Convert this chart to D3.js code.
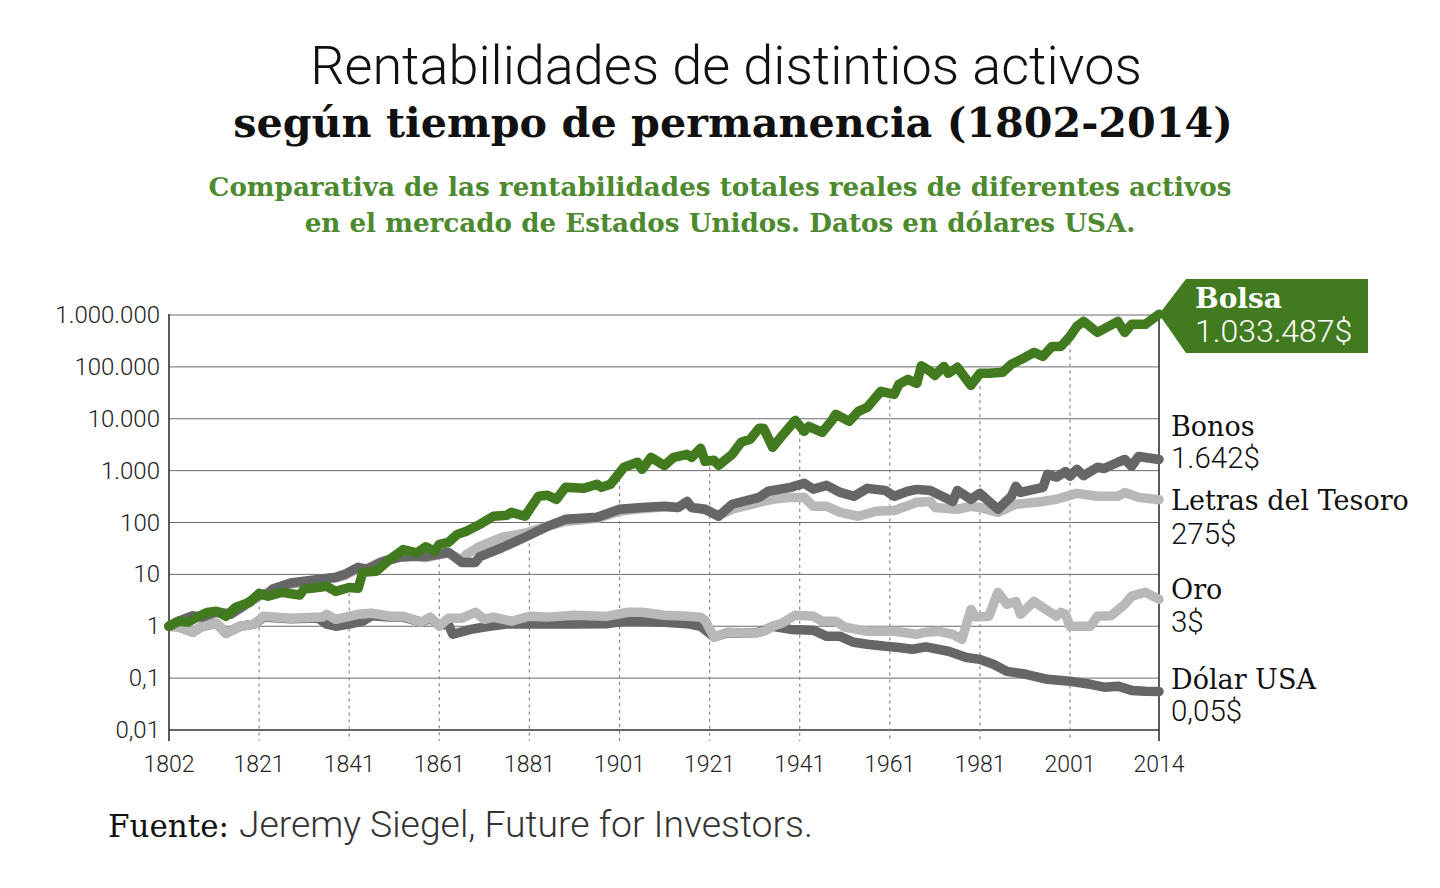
<!DOCTYPE html>
<html><head><meta charset="utf-8">
<script src="https://cdn.jsdelivr.net/npm/d3@7"></script>
<style>body{margin:0;background:#fff}svg{display:block}</style>
</head><body><svg id="c" width="1440" height="888"></svg>
<script>
// ---------- DATA ----------
const yearTicks = [1802,1821,1841,1861,1881,1901,1921,1941,1961,1981,2001,2014];
const valueTicks = [0.01,0.1,1,10,100,1000,10000,100000,1000000];
const valueTickLabels = ["0,01","0,1","1","10","100","1.000","10.000","100.000","1.000.000"];

const bolsa = [[1802,1],[1804,1.25],[1806,1.2],[1808,1.5],[1810,1.85],[1812,1.95],[1814,1.55],[1816,2.3],[1819,2.9],[1821,4.3],[1823,3.8],[1826,4.5],[1830,4.0],[1831,5.2],[1834,5.6],[1836,5.9],[1838,4.7],[1841,5.6],[1843,5.4],[1844,11],[1847,11.5],[1850,19.5],[1853,30],[1856,26],[1858,34],[1860,28],[1861,38],[1863,41.5],[1865,59],[1867,68],[1870,92],[1873,132],[1876,138],[1877,157],[1880,132],[1883,320],[1885,335],[1887,280],[1889,476],[1893,455],[1896,545],[1897,476],[1899,545],[1902,1160],[1905,1446],[1906,1060],[1908,1800],[1911,1250],[1913,1800],[1916,2060],[1917,1800],[1919,2690],[1920,1510],[1922,1580],[1923,1260],[1926,2060],[1928,3510],[1930,4010],[1932,6530],[1933,6530],[1935,2810],[1937,4580],[1940,9310],[1942,5710],[1943,7130],[1946,5470],[1948,8910],[1949,12170],[1952,8910],[1954,13900],[1956,16600],[1959,33700],[1962,29500],[1963,46000],[1965,57500],[1967,48000],[1968,105000],[1970,82000],[1971,68500],[1973,102000],[1974,75000],[1976,98000],[1979,44000],[1981,75000],[1983,75000],[1986,78400],[1988,112000],[1991,152000],[1993,190000],[1995,159000],[1997,248000],[1999,248000],[2001,387000],[2002,603000],[2003,753000],[2005,462000],[2008,753000],[2009,462000],[2010,660000],[2012,660000],[2014,1033487]];

const bonos = [[1802,1],[1804,1.25],[1807,1.6],[1809,1.5],[1812,1.9],[1815,1.7],[1818,2.6],[1821,4.0],[1823,4.2],[1824,5.2],[1828,6.8],[1831,7.4],[1835,8.2],[1838,8.8],[1840,10],[1843,13.7],[1845,12.5],[1848,17],[1852,21.3],[1855,22],[1858,22],[1861,24.5],[1863,26.7],[1866,17],[1869,17],[1870,22],[1875,33],[1880,52],[1885,84],[1889,115],[1896,126],[1901,180],[1906,195],[1911,205],[1914,195],[1916,255],[1917,195],[1920,180],[1923,132],[1926,225],[1932,305],[1934,400],[1939,475],[1942,570],[1944,440],[1947,520],[1950,380],[1953,320],[1956,455],[1960,415],[1962,320],[1965,400],[1967,435],[1970,415],[1975,255],[1976,415],[1979,280],[1981,365],[1985,180],[1988,320],[1989,500],[1990,380],[1995,475],[1996,850],[1998,750],[2000,960],[2001,775],[2002,1060],[2003,800],[2005,1160],[2006,1100],[2008,1450],[2009,1640],[2010,1210],[2011,1870],[2014,1642]];

const letras = [[1802,1],[1804,1.15],[1807,1.5],[1809,1.5],[1812,1.8],[1815,1.7],[1818,2.5],[1821,3.8],[1824,5],[1828,6.5],[1831,7],[1835,8],[1838,8.5],[1840,9.5],[1843,13],[1845,13],[1848,17.5],[1852,22],[1855,23],[1858,21],[1861,24],[1863,26],[1866,19],[1867,24],[1870,34.7],[1875,52],[1880,62],[1884,80],[1889,105],[1896,120],[1901,165],[1906,185],[1911,200],[1914,195],[1916,245],[1917,195],[1920,180],[1923,135],[1926,180],[1932,245],[1935,280],[1939,305],[1942,305],[1944,205],[1947,205],[1950,157],[1954,132],[1958,165],[1962,170],[1967,245],[1970,255],[1971,195],[1976,180],[1979,205],[1981,195],[1985,157],[1989,225],[1995,255],[1998,280],[2002,365],[2005,320],[2008,320],[2009,380],[2011,305],[2014,275]];

const oro = [[1802,1],[1804,0.98],[1807,0.77],[1809,1.0],[1812,1.14],[1814,0.73],[1817,1.0],[1820,1.1],[1822,1.56],[1828,1.43],[1835,1.5],[1836,1.7],[1838,1.36],[1843,1.7],[1846,1.78],[1850,1.56],[1853,1.56],[1857,1.2],[1859,1.5],[1861,1.0],[1863,1.43],[1866,1.43],[1869,1.86],[1871,1.36],[1873,1.5],[1877,1.25],[1881,1.56],[1885,1.5],[1891,1.63],[1898,1.55],[1903,1.86],[1906,1.86],[1911,1.63],[1916,1.56],[1919,1.5],[1920,1.3],[1922,0.61],[1925,0.77],[1931,0.73],[1933,0.8],[1935,1.0],[1937,1.14],[1940,1.63],[1944,1.56],[1946,1.25],[1949,1.25],[1951,0.96],[1956,0.8],[1962,0.8],[1967,0.7],[1969,0.77],[1972,0.8],[1975,0.7],[1977,0.56],[1979,2.1],[1980,1.5],[1983,1.56],[1985,4.5],[1987,2.65],[1989,3.0],[1990,1.7],[1993,3.0],[1995,2.3],[1998,1.56],[1999,1.86],[2000,1.7],[2001,1.0],[2004,1.0],[2005,1.56],[2007,1.6],[2009,2.65],[2010,3.8],[2012,4.5],[2014,3.3]];

const dolar = [[1802,1],[1804,0.98],[1807,0.77],[1809,1.0],[1812,1.14],[1814,0.73],[1817,1.0],[1820,1.1],[1822,1.5],[1828,1.4],[1834,1.45],[1836,1.1],[1838,1.0],[1841,1.1],[1844,1.25],[1846,1.6],[1850,1.5],[1853,1.5],[1857,1.2],[1859,1.4],[1861,1.05],[1863,1.1],[1864,0.7],[1868,0.87],[1872,1.0],[1876,1.1],[1881,1.1],[1891,1.1],[1898,1.12],[1902,1.25],[1906,1.25],[1911,1.2],[1916,1.12],[1919,1.0],[1920,0.85],[1922,0.62],[1925,0.75],[1931,0.74],[1933,0.82],[1935,1.0],[1939,0.87],[1944,0.84],[1947,0.64],[1950,0.64],[1953,0.49],[1956,0.45],[1960,0.41],[1963,0.39],[1966,0.36],[1969,0.4],[1974,0.33],[1978,0.25],[1981,0.23],[1984,0.185],[1987,0.135],[1991,0.12],[1996,0.095],[2001,0.087],[2004,0.076],[2006,0.067],[2008,0.07],[2010,0.058],[2012,0.056],[2014,0.055]];

const seriesNames = ["Bolsa","Bonos","Letras del Tesoro","Oro","Dólar USA"];
const finalLabels = ["1.033.487$","1.642$","275$","3$","0,05$"];

// ---------- LAYOUT ----------
const svg = d3.select("#c");
const L = 169, R = 1159, T = 315, B = 730;
const xRange = yearTicks.map((d,i)=> i < yearTicks.length-1 ? L + i*90.1 : R);
const x = d3.scaleLinear().domain(yearTicks).range(xRange);
const y = d3.scaleLog().domain([0.01,1e6]).range([B,T]);

const GREEN = "#417a1f", DARK = "#666666", LIGHT = "#b8b8b8";
const LIGHTF = "Roboto", SLAB = "DejaVu Serif";

// Titles
svg.append("text").attr("x",726).attr("y",84).attr("text-anchor","middle")
  .attr("font-family",LIGHTF).attr("font-weight",300).attr("font-size",54).attr("fill","#111")
  .text("Rentabilidades de distintios activos");
svg.append("text").attr("x",733).attr("y",137).attr("text-anchor","middle")
  .attr("font-family",SLAB).attr("font-weight",700).attr("font-size",41.3).attr("fill","#111")
  .text("según tiempo de permanencia (1802-2014)");
svg.append("text").attr("x",720).attr("y",196).attr("text-anchor","middle")
  .attr("font-family",SLAB).attr("font-weight",700).attr("font-size",26.2).attr("fill","#4d8a2f")
  .text("Comparativa de las rentabilidades totales reales de diferentes activos");
svg.append("text").attr("x",720).attr("y",232).attr("text-anchor","middle")
  .attr("font-family",SLAB).attr("font-weight",700).attr("font-size",26.2).attr("fill","#4d8a2f")
  .text("en el mercado de Estados Unidos. Datos en dólares USA.");

// Horizontal grid
const g = svg.append("g");
g.selectAll("line.h").data(valueTicks).join("line")
  .attr("x1",L).attr("x2",R).attr("y1",d=>y(d)).attr("y2",d=>y(d))
  .attr("stroke",(d,i)=> i===0 ? "#333" : "#6a6a6a").attr("stroke-width",(d,i)=> i===0 ? 1.6 : 1);

// Y tick labels
g.selectAll("text.yl").data(valueTicks).join("text")
  .attr("x",160).attr("y",d=>y(d)+8).attr("text-anchor","end")
  .attr("font-family",LIGHTF).attr("font-weight",300).attr("font-size",24).attr("fill","#222")
  .text((d,i)=>valueTickLabels[i]);

// X tick labels
g.selectAll("text.xl").data(yearTicks).join("text")
  .attr("x",d=>x(d)).attr("y",772).attr("text-anchor","middle")
  .attr("font-family",LIGHTF).attr("font-weight",300).attr("font-size",23).attr("fill","#222")
  .text(d=>d);

// dotted verticals from the Bolsa line downward
const logInterp = (series, yr) => {
  for (let i=1;i<series.length;i++){
    if (yr <= series[i][0]) {
      const [x0,v0]=series[i-1],[x1,v1]=series[i];
      const t=(yr-x0)/(x1-x0);
      return Math.pow(10, Math.log10(v0)+t*(Math.log10(v1)-Math.log10(v0)));
    }
  }
  return series[series.length-1][1];
};
g.selectAll("line.v").data(yearTicks.slice(1,-1)).join("line")
  .attr("x1",d=>x(d)).attr("x2",d=>x(d))
  .attr("y1",d=>y(logInterp(bolsa,d))+6).attr("y2",741)
  .attr("stroke","#888").attr("stroke-width",1.2).attr("stroke-dasharray","3,4");

// axis verticals
g.append("line").attr("x1",L).attr("x2",L).attr("y1",T-1).attr("y2",741).attr("stroke","#333").attr("stroke-width",1.6);
g.append("line").attr("x1",R).attr("x2",R).attr("y1",T-1).attr("y2",741).attr("stroke","#333").attr("stroke-width",1.6);

// lines
const line = d3.line().x(d=>x(d[0])).y(d=>y(d[1])).curve(d3.curveLinear);
const draw = [[letras,LIGHT],[dolar,DARK],[oro,LIGHT],[bonos,DARK],[bolsa,GREEN]];
draw.forEach(([s,c])=>{
  svg.append("path").datum(s).attr("d",line).attr("fill","none")
    .attr("stroke",c).attr("stroke-width",9.5).attr("stroke-linejoin","round").attr("stroke-linecap","round");
});

// Bolsa label box
const ye = y(bolsa[bolsa.length-1][1]);
svg.append("path")
  .attr("d",`M${R},${ye} L${R+27},279 L1368,279 L1368,353 L${R+27},353 Z`)
  .attr("fill",GREEN);
svg.append("text").attr("x",1195).attr("y",308)
  .attr("font-family",SLAB).attr("font-weight",700).attr("font-size",28).attr("fill","#fff").text(seriesNames[0]);
svg.append("text").attr("x",1195).attr("y",342)
  .attr("font-family",LIGHTF).attr("font-weight",300).attr("font-size",32).attr("fill","#fff").text(finalLabels[0]);

// other labels
const labelY = [[436,468],[510,544],[599,632],[689,721]];
labelY.forEach(([a,b],i)=>{
  svg.append("text").attr("x",1171).attr("y",a)
    .attr("font-family",SLAB).attr("font-weight",400).attr("font-size",27).attr("fill","#111").text(seriesNames[i+1]);
  svg.append("text").attr("x",1171).attr("y",b)
    .attr("font-family",LIGHTF).attr("font-weight",300).attr("font-size",29.5).attr("fill","#111").text(finalLabels[i+1]);
});

// source
const src = svg.append("text").attr("x",108).attr("y",837).attr("fill","#111");
src.append("tspan").attr("font-family",SLAB).attr("font-weight",400).attr("font-size",31).text("Fuente: ");
src.append("tspan").attr("font-family",LIGHTF).attr("font-weight",300).attr("font-size",37.3).attr("fill","#333").text("Jeremy Siegel, Future for Investors.");
</script></body></html>
